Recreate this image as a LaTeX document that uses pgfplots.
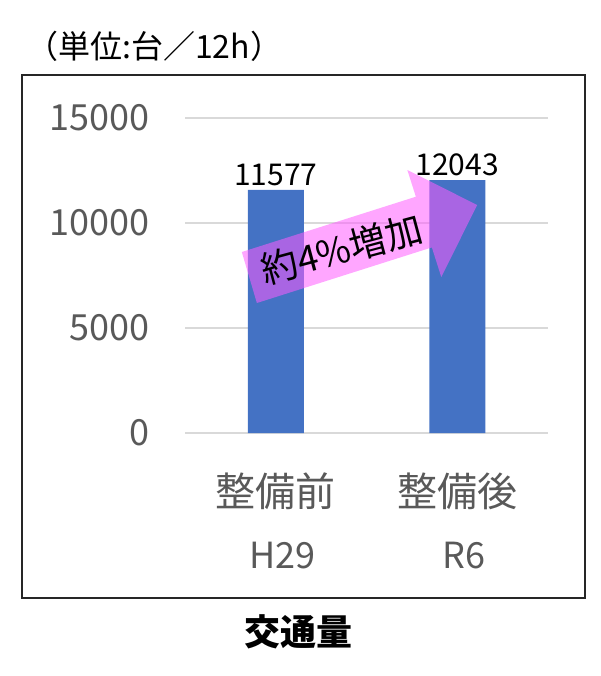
\documentclass[border=0pt]{standalone}
\usepackage{fontspec}
\setmainfont{Noto Sans CJK JP}
\usepackage{pgfplots}
\pgfplotsset{compat=1.18}
\definecolor{barblue}{HTML}{4472C4}
\definecolor{gridgray}{HTML}{D9D9D9}
\definecolor{tickgray}{HTML}{595959}
\definecolor{arrowpink}{RGB}{255,90,255}
\begin{document}
\begin{tikzpicture}[x=1pt,y=1pt]
\useasboundingbox (0,0) rectangle (600,-676);
\draw[line width=1.5pt, black!85] (22,-75) rectangle (585,-598);
\node[anchor=west, font=\fontsize{32}{36}\selectfont, inner sep=0pt] at (26,-46) {（単位:台／12h）};
\node[font=\fontsize{36}{40}\selectfont\bfseries] at (298,-632) {交通量};
\begin{axis}[
 at={(185pt,-433pt)}, anchor=south west,
 scale only axis, width=363pt, height=315pt,
 xmin=-0.5, xmax=1.5, ymin=0, ymax=15000,
 ytick={0,5000,10000,15000},
 xtick={0,1}, xticklabels={整備前,整備後},
 extra x ticks={0,1}, extra x tick labels={H29,R6},
 extra x tick style={xticklabel style={yshift=-70pt, xshift=7pt, font=\fontsize{36}{40}\selectfont}},
 scaled y ticks=false,
 /pgf/number format/1000 sep={},
 /pgf/number format/assume math mode=true,
 axis line style={draw=none},
 major tick length=0pt,
 ymajorgrids, grid style={gridgray, line width=1.5pt},
 yticklabel style={font=\fontsize{36}{40}\selectfont, text=tickgray, xshift=-32pt},
 xticklabel style={font=\fontsize{40}{44}\selectfont, text=tickgray, yshift=-36pt},
 clip=false,
]
\addplot[ybar, bar width=56pt, fill=barblue, draw=none,
  nodes near coords,
  nodes near coords style={font=\fontsize{30}{34}\selectfont, text=black, inner sep=1pt, yshift=3pt}]
  coordinates {(0,11577) (1,12043)};
\fill[arrowpink, fill opacity=0.54] (axis cs:-0.187,8619) -- (axis cs:0.772,11252) -- (axis cs:0.725,12524) -- (axis cs:1.110,10857) -- (axis cs:0.912,7429) -- (axis cs:0.860,8838) -- (axis cs:-0.104,6190) -- cycle;
\node[rotate=15, font=\fontsize{37}{40}\selectfont] at (axis cs:0.363,8762) {約4\%増加};
\end{axis}
\end{tikzpicture}
\end{document}
